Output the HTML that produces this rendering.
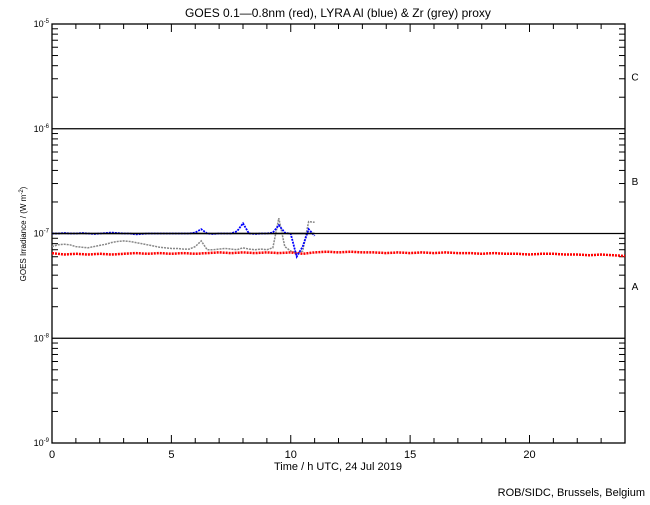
<!DOCTYPE html>
<html><head><meta charset="utf-8"><style>
body{margin:0;background:#fff}
svg text{font-family:"Liberation Sans",sans-serif;fill:#000}
</style></head><body>
<svg id="c" width="650" height="500" xmlns="http://www.w3.org/2000/svg"></svg>
<script>
const redTimes=[0,0.5,1,1.5,2,2.5,3,3.5,4,4.5,5,5.5,6,6.5,7,7.5,8,8.5,9,9.5,10,10.5,11,11.5,12,12.5,13,13.5,14,14.5,15,15.5,16,16.5,17,17.5,18,18.5,19,19.5,20,20.5,21,21.5,22,22.5,23,23.5,24];
const redVals=[6.5e-8,6.3e-8,6.4e-8,6.3e-8,6.4e-8,6.3e-8,6.4e-8,6.5e-8,6.4e-8,6.5e-8,6.4e-8,6.5e-8,6.4e-8,6.5e-8,6.6e-8,6.5e-8,6.6e-8,6.5e-8,6.6e-8,6.5e-8,6.6e-8,6.4e-8,6.6e-8,6.7e-8,6.6e-8,6.7e-8,6.6e-8,6.6e-8,6.5e-8,6.6e-8,6.5e-8,6.6e-8,6.5e-8,6.6e-8,6.5e-8,6.5e-8,6.4e-8,6.5e-8,6.4e-8,6.4e-8,6.3e-8,6.4e-8,6.4e-8,6.3e-8,6.3e-8,6.2e-8,6.3e-8,6.2e-8,6.1e-8];
const proxyTimes=[0,0.25,0.5,0.75,1,1.25,1.5,1.75,2,2.25,2.5,2.75,3,3.25,3.5,3.75,4,4.25,4.5,4.75,5,5.25,5.5,5.75,6,6.25,6.5,6.75,7,7.25,7.5,7.75,8,8.25,8.5,8.75,9,9.25,9.5,9.75,10,10.25,10.5,10.75,11];
const blueVals=[1.0e-7,1.0e-7,1.01e-7,1.0e-7,1.0e-7,1.01e-7,1.0e-7,0.99e-7,1.0e-7,1.01e-7,1.02e-7,1.01e-7,1.0e-7,1.0e-7,0.98e-7,0.99e-7,1.0e-7,1.0e-7,1.0e-7,1.0e-7,1.0e-7,1.0e-7,1.0e-7,1.0e-7,1.02e-7,1.1e-7,1.0e-7,0.99e-7,1.0e-7,1.0e-7,1.0e-7,1.05e-7,1.25e-7,1.0e-7,0.99e-7,1.0e-7,1.0e-7,1.02e-7,1.2e-7,1.02e-7,0.99e-7,0.6e-7,0.75e-7,1.1e-7,0.95e-7];
const greyVals=[7.5e-8,7.8e-8,7.9e-8,7.8e-8,7.5e-8,7.4e-8,7.3e-8,7.5e-8,7.7e-8,7.9e-8,8.2e-8,8.4e-8,8.5e-8,8.4e-8,8.2e-8,8.0e-8,7.8e-8,7.6e-8,7.4e-8,7.3e-8,7.2e-8,7.2e-8,7.1e-8,7.1e-8,7.5e-8,8.5e-8,7.0e-8,7.0e-8,7.1e-8,7.2e-8,7.1e-8,7.0e-8,7.3e-8,7.1e-8,7.0e-8,7.1e-8,7.0e-8,7.3e-8,1.4e-7,7.5e-8,6.8e-8,6.5e-8,6.8e-8,1.3e-7,1.28e-7];
const xTicks=[0,5,10,15,20];
const yDecades=[-5,-6,-7,-8,-9];
const classLabels=["C","B","A"];
const X0=52,X1=625,Y0=24,DEC=104.75;
const sx=t=>X0+t*(X1-X0)/24;
const sy=v=>Y0+(-5-Math.log10(v))*DEC;
const svg=document.getElementById('c');
const NS='http://www.w3.org/2000/svg';
function mk(tag,attrs,parent){const e=document.createElementNS(NS,tag);for(const k in attrs)e.setAttribute(k,attrs[k]);(parent||svg).appendChild(e);return e;}
let e;
e=mk('rect',{x:X0,y:Y0,width:X1-X0,height:4*DEC,fill:'none',stroke:'#000','stroke-width':1.3});


// decade lines and labels
yDecades.forEach(d=>{const y=Y0+(-5-d)*DEC;
 if(d<-5&&d>-9){e=mk('line',{x1:X0,x2:X1,y1:y,y2:y,stroke:'#000','stroke-width':1.2});
 
 }
 e=mk('text',{x:X0-3,y:y+3,'font-size':9,'text-anchor':'end'});
 
 
 e.innerHTML='10<tspan dy="-4" font-size="6">'+d+'</tspan>';
 if(d>-9){for(let m=2;m<10;m++){const yy=y+Math.log10(10/m)*DEC;
  e=mk('line',{x1:X0,x2:X0+6,y1:yy,y2:yy,stroke:'#000'});
  
  
  e=mk('line',{x1:X1,x2:X1-6,y1:yy,y2:yy,stroke:'#000'});
  
  }}
});
for(let h=1;h<24;h++){const x=sx(h),L=h%5==0?8:5;
 e=mk('line',{x1:x,x2:x,y1:Y0+4*DEC,y2:Y0+4*DEC-L,stroke:'#000'});
 
 
 e=mk('line',{x1:x,x2:x,y1:Y0,y2:Y0+L,stroke:'#000'});
 
 }
xTicks.forEach(t=>{e=mk('text',{x:sx(t),y:458,'font-size':11,'text-anchor':'middle'});
 
 
 e.textContent=t;});
classLabels.forEach((c,i)=>{e=mk('text',{x:635,y:Y0+DEC*(i+0.5)+4,'font-size':10,'text-anchor':'middle'});
 
 
 e.textContent=c;});
function series(ts,vs,col,name,w){
 const g=mk('g',{});
 
 
 e=mk('polyline',{points:ts.map((t,i)=>sx(t)+','+sy(vs[i])).join(' '),fill:'none',stroke:col,'stroke-width':w,'stroke-dasharray':'2 1'},g);
 
 
}
series(proxyTimes,greyVals,'#888','grey-zr-proxy',1.5);
series(redTimes,redVals,'#f00','red-goes-series',2.5);
series(proxyTimes,blueVals,'#00f','blue-lyra-series',1.8);
e=mk('line',{x1:sx(0),x2:sx(11),y1:sy(1e-7),y2:sy(1e-7),stroke:'#000','stroke-width':1.5});


e=mk('text',{x:338,y:17,'font-size':12,'text-anchor':'middle'});


e.textContent='GOES 0.1\u20140.8nm (red), LYRA Al (blue) & Zr (grey) proxy';
e=mk('text',{x:338,y:470,'font-size':11,'text-anchor':'middle'});


e.textContent='Time / h UTC, 24 Jul 2019';
e=mk('text',{x:645,y:496,'font-size':11,'text-anchor':'end'});


e.textContent='ROB/SIDC, Brussels, Belgium';
e=mk('text',{x:0,y:0,'font-size':8,'text-anchor':'middle',transform:'translate(26,234) rotate(-90)'});


e.innerHTML='GOES Irradiance / (W m<tspan dy="-3" font-size="6">-2</tspan><tspan dy="3">)</tspan>';
</script>
</body></html>
